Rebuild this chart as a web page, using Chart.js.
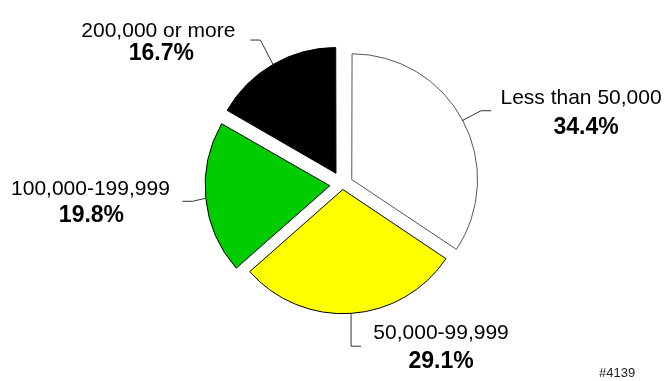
<!DOCTYPE html>
<html>
<head>
<meta charset="utf-8">
<script src="https://cdn.jsdelivr.net/npm/chart.js@4/dist/chart.umd.min.js"></script>
<style>
    html, body { margin: 0; padding: 0; background: #fff; }
    #wrap { position: relative; width: 666px; height: 381px; }
</style>
</head>
<body>
<div id="wrap"><canvas id="incomeChart"></canvas></div>
<script>
// income brackets and their share of households (percent)
var categories = ["Less than 50,000", "50,000-99,999", "100,000-199,999", "200,000 or more"];
var shares = [34.4, 29.1, 19.8, 16.7];
var footnote = "#4139";

var sliceColors = ["#ffffff", "#ffff00", "#00cc00", "#000000"];
var sliceBorders = ["#555555", "#000000", "#000000", "#000000"];
var sliceOffsets = [42, 20, 51, 52]; // exploded pieces

// leader line: elbow (dx,dy) from the arc, then a short run to the text
// text: label/percent anchors relative to the end of the leader
var leaders = [
    { elbow: [19, -10], run: 10, label: [90, -7], pct: [95, 23] },
    { elbow: [0, 32], run: 10, label: [80, -7], pct: [80, 22] },
    { elbow: [-13, 3], run: -10, label: [-92, -6], pct: [-91, 21] },
    { elbow: [-13, -25], run: -10, label: [-92, -3], pct: [-89, 20] }
];

var pieLabels = {
    id: "pieLabels",
    afterDraw: function (chart) {
        var ctx = chart.ctx;
        var arcs = chart.getDatasetMeta(0).data;
        ctx.save();
        for (var i = 0; i < arcs.length; i++) {
            var arc = arcs[i];
            var mid = (arc.startAngle + arc.endAngle) / 2;
            var dist = (arc.options.offset || 0) / 4 + arc.outerRadius + 1;
            var x0 = arc.x + Math.cos(mid) * dist;
            var y0 = arc.y + Math.sin(mid) * dist;
            var l = leaders[i];
            var x1 = x0 + l.elbow[0];
            var y1 = y0 + l.elbow[1];
            var x2 = x1 + l.run;

            ctx.strokeStyle = "#333";
            ctx.lineWidth = 1;
            ctx.beginPath();
            ctx.moveTo(x0, y0);
            ctx.lineTo(x1, y1);
            ctx.lineTo(x2, y1);
            ctx.stroke();

            ctx.fillStyle = "#000";
            ctx.textAlign = "center";
            ctx.textBaseline = "alphabetic";
            ctx.font = "21px 'Liberation Sans', Arial, sans-serif";
            ctx.fillText(categories[i], x2 + l.label[0], y1 + l.label[1]);
            ctx.font = "bold 23px 'Liberation Sans', Arial, sans-serif";
            ctx.fillText(shares[i].toFixed(1) + "%", x2 + l.pct[0], y1 + l.pct[1]);
        }

        ctx.font = "13px 'Liberation Sans', Arial, sans-serif";
        ctx.textAlign = "left";
        ctx.fillStyle = "#222";
        ctx.fillText(footnote, 599, 377);
        ctx.restore();
    }
};

var chart = new Chart(document.getElementById("incomeChart"), {
    type: "pie",
    data: {
        labels: categories,
        datasets: [{
            data: shares,
            backgroundColor: sliceColors,
            borderColor: sliceBorders,
            borderWidth: 1,
            offset: sliceOffsets,
            hoverOffset: 0
        }]
    },
    options: {
        responsive: true,
        maintainAspectRatio: false,
        animation: false,
        events: [],
        radius: 124,
        layout: { padding: { left: 19, right: 0, top: 20, bottom: 32 } },
        plugins: {
            legend: { display: false },
            tooltip: { enabled: false }
        }
    },
    plugins: [pieLabels]
});
</script>
</body>
</html>
